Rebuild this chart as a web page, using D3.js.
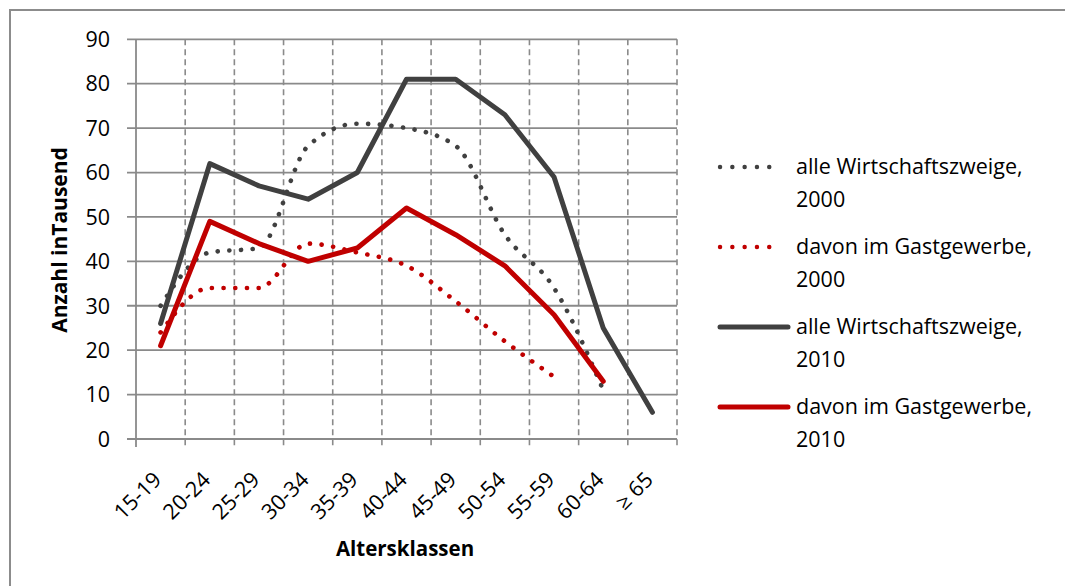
<!DOCTYPE html>
<html lang="de">
<head>
<meta charset="UTF-8">
<title>Erwerbstätige nach Altersklassen</title>
<script src="https://cdn.jsdelivr.net/npm/d3@7"></script>
<style>
    body { margin: 0; background: #fff; }
    svg { display: block; font-family: "Open Sans", "Noto Sans", sans-serif; }
</style>
</head>
<body>
<div id="chart"></div>
<script>
// Daten (Anzahl in Tausend)
const altersklassen = ["15-19", "20-24", "25-29", "30-34", "35-39", "40-44", "45-49", "50-54", "55-59", "60-64", "≥ 65"];
const alle2000 = [30, 42, 43, 66, 71, 70, 66, 46, 34, 11, null];
const gast2000 = [24, 34, 34, 44, 42, 39, 31, 22, 14, null, null];
const alle2010 = [26, 62, 57, 54, 60, 81, 81, 73, 59, 25, 6];
const gast2010 = [21, 49, 44, 40, 43, 52, 46, 39, 28, 13, null];
const yTicks = [0, 10, 20, 30, 40, 50, 60, 70, 80, 90];

const serien = [
    { name: ["alle Wirtschaftszweige,", "2000"], values: alle2000, color: "#404040", dotted: true },
    { name: ["davon im Gastgewerbe,", "2000"], values: gast2000, color: "#c00000", dotted: true },
    { name: ["alle Wirtschaftszweige,", "2010"], values: alle2010, color: "#404040", dotted: false },
    { name: ["davon im Gastgewerbe,", "2010"], values: gast2010, color: "#c00000", dotted: false }
];

const width = 1065, height = 586;
const plot = { left: 136, right: 677, top: 39.3, bottom: 439 };
const gridColor = "#8a8a8a";

const svg = d3.select("#chart").append("svg")
    .attr("width", width)
    .attr("height", height);

// Rahmen des Diagrammbereichs
svg.append("rect")
    .attr("x", 10).attr("y", 10)
    .attr("width", 1100).attr("height", 700)
    .attr("fill", "none")
    .attr("stroke", "#8c8c8c")
    .attr("stroke-width", 2);

const x = d3.scaleBand().domain(altersklassen).range([plot.left, plot.right]).padding(0);
const y = d3.scaleLinear().domain([0, 90]).range([plot.bottom, plot.top]);
const cx = d => x(d) + x.bandwidth() / 2;

// horizontale Gitterlinien + Teilstriche
svg.append("g").selectAll("line")
    .data(yTicks)
    .join("line")
    .attr("x1", plot.left - 9).attr("x2", plot.right)
    .attr("y1", d => y(d)).attr("y2", d => y(d))
    .attr("stroke", gridColor)
    .attr("stroke-width", 1.8);

// vertikale gestrichelte Gitterlinien an den Kategoriengrenzen
svg.append("g").selectAll("line")
    .data(altersklassen)
    .join("line")
    .attr("x1", d => x(d) + x.bandwidth()).attr("x2", d => x(d) + x.bandwidth())
    .attr("y1", plot.top).attr("y2", plot.bottom + 8)
    .attr("stroke", gridColor)
    .attr("stroke-width", 1.6)
    .attr("stroke-dasharray", "6 4");

// y-Achse
svg.append("line")
    .attr("x1", plot.left).attr("x2", plot.left)
    .attr("y1", plot.top).attr("y2", plot.bottom + 8)
    .attr("stroke", gridColor)
    .attr("stroke-width", 1.8);

// y-Beschriftung
svg.append("g").selectAll("text")
    .data(yTicks)
    .join("text")
    .attr("x", 110)
    .attr("y", d => y(d))
    .attr("dy", "0.36em")
    .attr("text-anchor", "end")
    .attr("font-size", 21.5)
    .attr("fill", "#000")
    .text(d => d);

// x-Beschriftung, um 45° gedreht
svg.append("g").selectAll("text")
    .data(altersklassen)
    .join("text")
    .attr("transform", d => `translate(${cx(d) + 2},${plot.bottom + 42}) rotate(-45)`)
    .attr("text-anchor", "end")
    .attr("font-size", 21.5)
    .attr("fill", "#000")
    .text(d => d);

// Achsentitel
svg.append("text")
    .attr("transform", "translate(67,240) rotate(-90)")
    .attr("text-anchor", "middle")
    .attr("font-size", 21)
    .attr("font-weight", "bold")
    .text("Anzahl inTausend");

svg.append("text")
    .attr("x", 405).attr("y", 556)
    .attr("text-anchor", "middle")
    .attr("font-size", 20.5)
    .attr("font-weight", "bold")
    .text("Altersklassen");

// Linien: 2000 geglättet und gepunktet, 2010 gerade
const glatt = d3.line()
    .defined(d => d.v != null)
    .x(d => cx(d.k)).y(d => y(d.v))
    .curve(d3.curveMonotoneX);
const gerade = d3.line()
    .defined(d => d.v != null)
    .x(d => cx(d.k)).y(d => y(d.v));

serien.forEach(s => {
    const pts = altersklassen.map((k, i) => ({ k: k, v: s.values[i] }));
    const p = svg.append("path")
        .attr("d", (s.dotted ? glatt : gerade)(pts))
        .attr("fill", "none")
        .attr("stroke", s.color)
        .attr("stroke-linejoin", "round")
        .attr("stroke-linecap", "round");
    if (s.dotted) {
        p.attr("stroke-width", 4.6)
            .attr("stroke-dasharray", "0.1 11.6");
    } else {
        p.attr("stroke-width", 5);
    }
});

// Legende
const legend = svg.append("g");
const legendY = [167, 247, 327, 407];
serien.forEach((s, i) => {
    const g = legend.append("g").attr("transform", `translate(0,${legendY[i]})`);
    g.append("line")
        .attr("x1", 720).attr("x2", s.dotted ? 780 : 788)
        .attr("y1", 0).attr("y2", 0)
        .attr("stroke", s.color)
        .attr("stroke-width", s.dotted ? 4.4 : 5)
        .attr("stroke-linecap", "round")
        .attr("stroke-dasharray", s.dotted ? "0.1 12.2" : null);
    g.append("text")
        .attr("x", 796).attr("y", 7)
        .attr("font-size", 21.5)
        .text(s.name[0]);
    g.append("text")
        .attr("x", 796).attr("y", 40)
        .attr("font-size", 21.5)
        .text(s.name[1]);
});
</script>
</body>
</html>
